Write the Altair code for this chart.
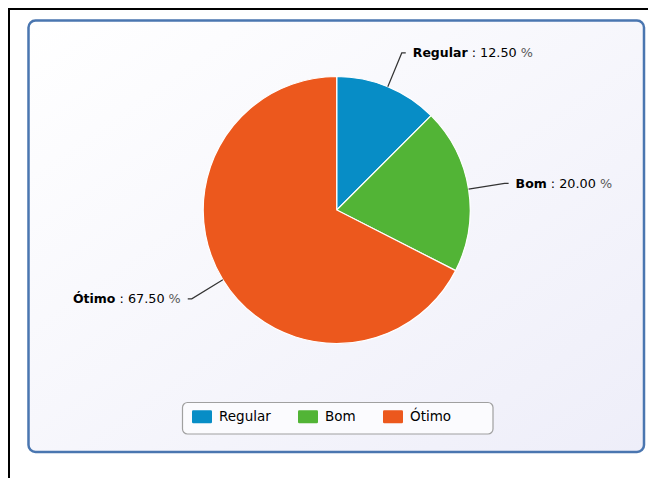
import math
import altair as alt
import pandas as pd

# ---- data ----
categories = ["Regular", "Bom", "Ótimo"]
values = [12.5, 20.0, 67.5]
colors = ["#078dc6", "#52b436", "#ec581d"]

# ---- layout constants (chart pixel space) ----
W, H = 640, 470
CX, CY, R = 328.7, 202.0, 133.5
R_ELBOW, HSEG, GAP = 170.0, 4.0, 7.0
FS_B, FS_N = 12.5, 12.8
FONT = "DejaVu Sans"

# approximate DejaVu Sans advance widths (em units)
BOLD_W = {"R": .770, "e": .678, "g": .716, "u": .712, "l": .343, "a": .675, "r": .493,
          "B": .762, "o": .687, "m": 1.042, "Ó": .850, "t": .478, "i": .343}
NORM_W = {" ": .318, ":": .337, ".": .318, "%": .950}
for d in "0123456789":
    NORM_W[d] = .636


def width(s, table, fs):
    return sum(table.get(ch, .6) for ch in s) * fs


total = sum(values)
pie_df = pd.DataFrame({"cat": categories, "value": values, "idx": range(len(values))})

line_rows, name_rows, val_rows, pct_rows = [], [], [], []
cum = 0.0
for c, v in zip(categories, values):
    a0 = cum / total * 2 * math.pi
    cum += v
    a1 = cum / total * 2 * math.pi
    mid = (a0 + a1) / 2
    s, co = math.sin(mid), math.cos(mid)
    ex, ey = CX + R * s, CY - R * co
    bx, by = CX + R_ELBOW * s, CY - R_ELBOW * co
    side = 1 if s >= 0 else -1
    hx = bx + side * HSEG
    line_rows += [
        {"cat": c, "k": 0, "x": ex, "y": ey},
        {"cat": c, "k": 1, "x": bx, "y": by},
        {"cat": c, "k": 2, "x": hx, "y": by},
    ]
    vtxt = ": " + f"{v / total * 100:.2f}"
    wb = width(c, BOLD_W, FS_B)
    ws = width(" ", NORM_W, FS_N)
    wv = width(vtxt, NORM_W, FS_N)
    wp = width("%", NORM_W, FS_N)
    totw = wb + ws + wv + ws + wp
    x0 = hx + GAP if side > 0 else hx - GAP - totw
    ty = by + 0.5
    name_rows.append({"x": x0, "y": ty, "t": c})
    val_rows.append({"x": x0 + wb + ws, "y": ty, "t": vtxt})
    pct_rows.append({"x": x0 + wb + ws + wv + ws, "y": ty, "t": "%"})

lines_df = pd.DataFrame(line_rows)
one = pd.DataFrame({"a": [0]})

xs = alt.Scale(domain=[0, W], range=[0, W], nice=False, zero=False)
ys = alt.Scale(domain=[0, H], range=[0, H], nice=False, zero=False)

# outer black frame (right/bottom run off the page)
frame = alt.Chart(one).mark_rect(fillOpacity=0, stroke="black", strokeWidth=2).encode(
    x=alt.value(1), x2=alt.value(900), y=alt.value(1), y2=alt.value(900))

panel = alt.Chart(one).mark_rect(
    cornerRadius=7, stroke="#4a76b0", strokeWidth=2.5,
    fill=alt.LinearGradient(gradient="linear", x1=0, y1=0, x2=1, y2=1,
                            stops=[alt.GradientStop(color="#ffffff", offset=0),
                                   alt.GradientStop(color="#eeeef9", offset=1)])
).encode(x=alt.value(20.5), x2=alt.value(636), y=alt.value(12.5), y2=alt.value(444))

legend_box = alt.Chart(one).mark_rect(
    cornerRadius=5, stroke="#a0a0a0", strokeWidth=1.2, fill="#fbfbfe"
).encode(x=alt.value(174.5), x2=alt.value(485), y=alt.value(394.5), y2=alt.value(426))

sym = "M-0.88,-0.65H0.88Q1,-0.65 1,-0.53V0.53Q1,0.65 0.88,0.65H-0.88Q-1,0.65 -1,0.53V-0.53Q-1,-0.65 -0.88,-0.65Z"

pie = alt.Chart(pie_df).mark_arc(radius=R, stroke="white", strokeWidth=1.2).encode(
    theta=alt.Theta("value:Q", stack=True),
    order=alt.Order("idx:Q"),
    color=alt.Color("cat:N", scale=alt.Scale(domain=categories, range=colors),
                    legend=alt.Legend(orient="none", legendX=184, legendY=398.5,
                                      direction="horizontal", title=None,
                                      symbolType=sym, symbolSize=400,
                                      symbolStrokeWidth=0, symbolOpacity=1,
                                      labelFont=FONT, labelFontSize=13.5,
                                      labelColor="black", labelOffset=7,
                                      columnPadding=27, padding=0)),
    x=alt.value(CX), y=alt.value(CY),
)

leaders = alt.Chart(lines_df).mark_line(color="#333333", strokeWidth=1.2).encode(
    x=alt.X("x:Q", scale=xs, axis=None),
    y=alt.Y("y:Q", scale=ys, axis=None),
    detail="cat:N",
    order="k:Q",
)


def text_layer(rows, weight, size, color):
    return alt.Chart(pd.DataFrame(rows)).mark_text(
        align="left", baseline="middle", font=FONT, fontSize=size,
        fontWeight=weight, color=color
    ).encode(x=alt.X("x:Q", scale=xs, axis=None),
             y=alt.Y("y:Q", scale=ys, axis=None),
             text="t:N")


names = text_layer(name_rows, "bold", FS_B, "black")
vals = text_layer(val_rows, "normal", FS_N, "black")
pcts = text_layer(pct_rows, "normal", FS_N, "#5a5a5a")

chart = alt.layer(frame, panel, legend_box, pie, leaders, names, vals, pcts).properties(
    width=W, height=H, padding=0, autosize=alt.AutoSizeParams(type="none"),
    background="white"
).configure_view(stroke=None)

chart.save("out.html", embed_options={"renderer": "svg", "actions": False})
